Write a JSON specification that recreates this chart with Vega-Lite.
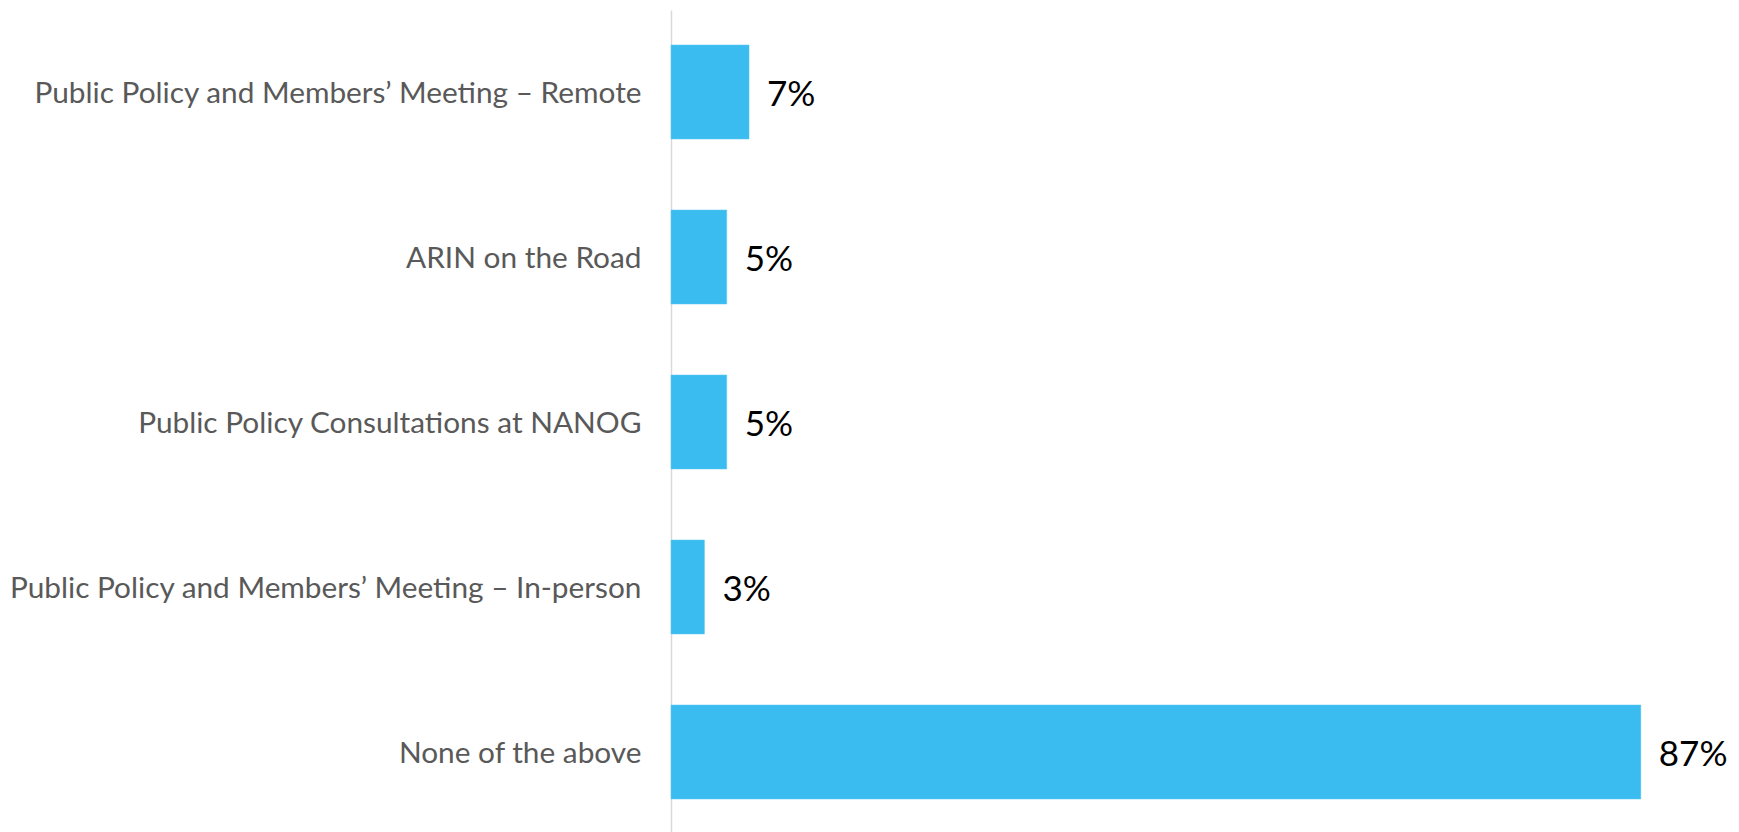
{
  "$schema": "https://vega.github.io/schema/vega-lite/v6.json",
  "width": 1059,
  "height": 824,
  "autosize": {"type": "none"},
  "padding": {"left": 671, "top": 10, "right": 0, "bottom": 0},
  "background": "#ffffff",
  "config": {"view": {"stroke": null}},
  "data": {
    "values": [
      {"option": "Public Policy and Members’ Meeting – Remote", "share": 0.07},
      {"option": "ARIN on the Road", "share": 0.05},
      {"option": "Public Policy Consultations at NANOG", "share": 0.05},
      {"option": "Public Policy and Members’ Meeting – In-person", "share": 0.03},
      {"option": "None of the above", "share": 0.87}
    ]
  },
  "encoding": {
    "y": {
      "field": "option",
      "type": "nominal",
      "sort": null,
      "scale": {"paddingInner": 0.43, "paddingOuter": 0.212},
      "axis": {
        "title": null,
        "ticks": false,
        "labelPadding": 30,
        "labelOffset": 2,
        "labelLimit": 800,
        "labelFont": "Lato",
        "labelFontSize": 29.8,
        "labelColor": "#595959",
        "domainColor": "#d9d9d9",
        "domainWidth": 1.5
      }
    },
    "x": {
      "field": "share",
      "type": "quantitative",
      "scale": {"domain": [0, 0.95], "nice": false},
      "axis": null
    }
  },
  "layer": [
    {"mark": {"type": "bar", "color": "#3BBCF0", "stroke": "#5CC8F2", "strokeWidth": 0.5}},
    {
      "mark": {"type": "text", "align": "left", "baseline": "middle", "dx": 18, "dy": 3, "font": "Lato", "fontSize": 35, "color": "#000000"},
      "encoding": {"text": {"field": "share", "type": "quantitative", "format": ".0%"}}
    }
  ]
}
